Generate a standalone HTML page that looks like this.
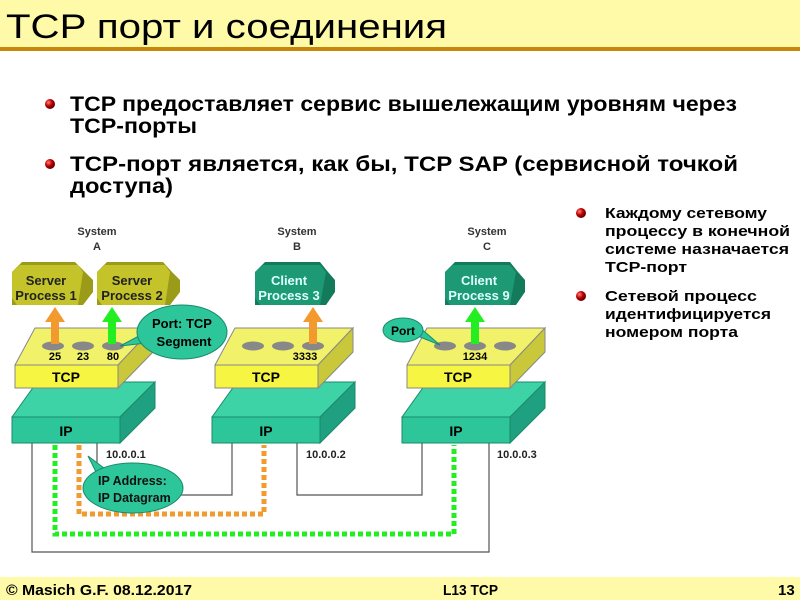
<!DOCTYPE html>
<html><head><meta charset="utf-8"><style>
body{margin:0;width:800px;height:600px;overflow:hidden;background:#fff;font-family:"Liberation Sans",sans-serif}
</style></head><body>
<svg width="800" height="600" viewBox="0 0 800 600" xmlns="http://www.w3.org/2000/svg" font-family="Liberation Sans, sans-serif">
<defs>
<linearGradient id="cyl" x1="0" x2="1"><stop offset="0" stop-color="#22ee22"/><stop offset="1" stop-color="#f29a2e"/></linearGradient>
<radialGradient id="bul" cx="0.35" cy="0.35" r="0.7"><stop offset="0" stop-color="#ff8080"/><stop offset="0.5" stop-color="#c00000"/><stop offset="1" stop-color="#500000"/></radialGradient>
<g id="tcp">
<polygon points="15,365 35,328 153,328 118,365" fill="#f2f26a" stroke="#888" stroke-width="1"/>
<polygon points="118,365 153,328 153,352 118,388" fill="#c8c83a" stroke="#888" stroke-width="1"/>
<rect x="15" y="365" width="103" height="23" fill="#f5f542" stroke="#888" stroke-width="1"/>
<text x="66" y="382" font-size="14" font-weight="bold" text-anchor="middle">TCP</text>
</g>
<g id="ip">
<polygon points="12,417 37,382 155,382 120,417" fill="#3dd3a6" stroke="#1a8a6a"/>
<polygon points="120,417 155,382 155,408 120,443" fill="#1fa080" stroke="#1a8a6a"/>
<rect x="12" y="417" width="108" height="26" fill="#2dc69a" stroke="#1a8a6a"/>
<text x="66" y="436" font-size="14" font-weight="bold" text-anchor="middle">IP</text>
</g>
<g id="holes">
<ellipse cx="53" cy="346" rx="11" ry="4.5" fill="#888"/>
<ellipse cx="83" cy="346" rx="11" ry="4.5" fill="#888"/>
<ellipse cx="113" cy="346" rx="11" ry="4.5" fill="#888"/>
</g>
</defs>
<!-- header -->
<rect x="0" y="0" width="800" height="48" fill="#fefaa8"/>
<rect x="0" y="47" width="800" height="4" fill="#c8860a"/>
<text x="6" y="38" font-size="34" fill="#000" textLength="441" lengthAdjust="spacingAndGlyphs">TCP порт и соединения</text>
<!-- bullets -->
<circle cx="50" cy="104" r="5" fill="url(#bul)"/>
<g font-size="21" font-weight="bold">
<text x="70" y="111" textLength="667" lengthAdjust="spacingAndGlyphs">TCP предоставляет сервис вышележащим уровням через</text>
<text x="70" y="133" textLength="127" lengthAdjust="spacingAndGlyphs">TCP-порты</text>
</g>
<circle cx="50" cy="164" r="5" fill="url(#bul)"/>
<g font-size="21" font-weight="bold">
<text x="70" y="171" textLength="668" lengthAdjust="spacingAndGlyphs">TCP-порт является, как бы, TCP SAP (сервисной точкой</text>
<text x="70" y="193" textLength="103" lengthAdjust="spacingAndGlyphs">доступа)</text>
</g>
<circle cx="581" cy="213" r="5" fill="url(#bul)"/>
<g font-size="15" font-weight="bold">
<text x="605" y="218" textLength="162" lengthAdjust="spacingAndGlyphs">Каждому сетевому</text>
<text x="605" y="236" textLength="185" lengthAdjust="spacingAndGlyphs">процессу в конечной</text>
<text x="605" y="254" textLength="184" lengthAdjust="spacingAndGlyphs">системе назначается</text>
<text x="605" y="272" textLength="82" lengthAdjust="spacingAndGlyphs">TCP-порт</text>
</g>
<circle cx="581" cy="296" r="5" fill="url(#bul)"/>
<g font-size="15" font-weight="bold">
<text x="605" y="301" textLength="152" lengthAdjust="spacingAndGlyphs">Сетевой процесс</text>
<text x="605" y="319" textLength="166" lengthAdjust="spacingAndGlyphs">идентифицируется</text>
<text x="605" y="337" textLength="133" lengthAdjust="spacingAndGlyphs">номером порта</text>
</g>
<!-- system labels -->
<g font-size="11" font-weight="bold" fill="#333" text-anchor="middle">
<text x="97" y="235">System</text><text x="97" y="250">A</text>
<text x="297" y="235">System</text><text x="297" y="250">B</text>
<text x="487" y="235">System</text><text x="487" y="250">C</text>
</g>
<!-- process boxes -->
<g font-size="13" font-weight="bold" text-anchor="middle">
<polygon points="12,272 22,262 75,262 85,272 93,280 93,292 83,305 12,305" fill="#9b9b1a"/>
<polygon points="12,272 20,265 78,265 83,272 78,305 17,305 12,298" fill="#c4c42a"/>
<text x="46" y="285" fill="#222">Server</text><text x="46" y="300" fill="#222">Process 1</text>
<polygon points="97,272 107,262 163,262 172,272 180,280 180,292 170,305 97,305" fill="#9b9b1a"/>
<polygon points="97,272 105,265 165,265 170,272 165,305 102,305 97,298" fill="#c4c42a"/>
<text x="132" y="285" fill="#222">Server</text><text x="132" y="300" fill="#222">Process 2</text>
<polygon points="255,272 265,262 320,262 328,272 335,280 335,292 326,305 255,305" fill="#137a5c"/>
<polygon points="255,272 263,265 320,265 326,272 320,305 260,305 255,298" fill="#1d9a74"/>
<text x="289" y="285" fill="#dff">Client</text><text x="289" y="300" fill="#dff">Process 3</text>
<polygon points="445,272 455,262 510,262 518,272 525,280 525,292 516,305 445,305" fill="#137a5c"/>
<polygon points="445,272 453,265 510,265 516,272 510,305 450,305 445,298" fill="#1d9a74"/>
<text x="479" y="285" fill="#dff">Client</text><text x="479" y="300" fill="#dff">Process 9</text>
</g>
<!-- cylinders -->
<rect x="65" y="385" width="32" height="24" rx="3" fill="url(#cyl)"/>
<rect x="265" y="385" width="32" height="24" rx="3" fill="#f29a2e"/>
<rect x="455" y="385" width="32" height="24" rx="3" fill="#22ee22"/>
<!-- stacks -->
<use href="#ip"/><use href="#ip" x="200"/><use href="#ip" x="390"/>
<use href="#tcp"/><use href="#tcp" x="200"/><use href="#tcp" x="392"/>
<use href="#holes"/><use href="#holes" x="200"/><use href="#holes" x="392"/>
<g font-size="11" font-weight="bold" text-anchor="middle">
<text x="55" y="360">25</text><text x="83" y="360">23</text><text x="113" y="360">80</text>
<text x="305" y="360">3333</text><text x="475" y="360">1234</text>
</g>
<!-- arrows -->
<g>
<rect x="51" y="320" width="8" height="24" fill="#f29a2e"/><polygon points="45,322 55,307 65,322" fill="#f29a2e"/>
<rect x="108" y="320" width="8" height="24" fill="#22ee22"/><polygon points="102,322 112,307 122,322" fill="#22ee22"/>
<rect x="309" y="320" width="8" height="24" fill="#f29a2e"/><polygon points="303,322 313,307 323,322" fill="#f29a2e"/>
<rect x="471" y="320" width="8" height="24" fill="#22ee22"/><polygon points="465,322 475,307 485,322" fill="#22ee22"/>
</g>
<!-- bubbles -->
<path d="M120,346 L150,330 L155,342 Z" fill="#2dc69a" stroke="#1a8a6a"/>
<ellipse cx="182" cy="332" rx="45" ry="27" fill="#2dc69a" stroke="#1a8a6a"/>
<text font-size="13" font-weight="bold" text-anchor="middle"><tspan x="182" y="328">Port: TCP</tspan><tspan x="184" y="346">Segment</tspan></text>
<path d="M440,345 L410,333 L418,326 Z" fill="#2dc69a" stroke="#1a8a6a"/>
<ellipse cx="403" cy="330" rx="20" ry="12" fill="#2dc69a" stroke="#1a8a6a"/>
<text x="403" y="335" font-size="12" font-weight="bold" text-anchor="middle">Port</text>
<!-- network lines -->
<g fill="none" stroke="#555" stroke-width="1.2">
<path d="M32,443 V552 H489 V443"/>
<path d="M97,443 V495 H232 V443"/>
<path d="M297,443 V495 H422 V443"/>
</g>
<path d="M79,445 V514 H264 V445" fill="none" stroke="#f29a2e" stroke-width="5" stroke-dasharray="5,3"/>
<path d="M55,445 V534 H454 V445" fill="none" stroke="#22ee22" stroke-width="5" stroke-dasharray="5,3"/>
<g font-size="11" font-weight="bold" fill="#222">
<text x="106" y="458">10.0.0.1</text><text x="306" y="458">10.0.0.2</text><text x="497" y="458">10.0.0.3</text>
</g>
<path d="M88,456 L112,474 L100,480 Z" fill="#2dc69a" stroke="#1a8a6a"/>
<ellipse cx="133" cy="488" rx="50" ry="25" fill="#2dc69a" stroke="#1a8a6a"/>
<text font-size="12.5" font-weight="bold" fill="#111"><tspan x="98" y="485">IP Address:</tspan><tspan x="98" y="502">IP Datagram</tspan></text>
<!-- footer -->
<rect x="0" y="577" width="800" height="23" fill="#fefaa8"/>
<text x="6" y="595" font-size="15" font-weight="bold" textLength="186" lengthAdjust="spacingAndGlyphs">© Masich G.F. 08.12.2017</text>
<text x="443" y="595" font-size="15" font-weight="bold" textLength="55" lengthAdjust="spacingAndGlyphs">L13 TCP</text>
<text x="778" y="595" font-size="15" font-weight="bold">13</text>
</svg>
</body></html>
